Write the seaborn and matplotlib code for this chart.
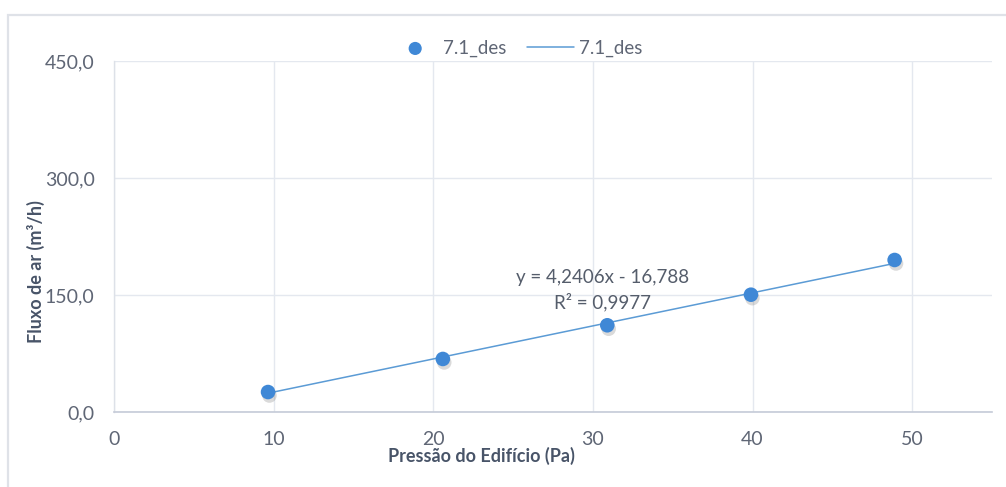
import numpy as np
import pandas as pd
import matplotlib
matplotlib.use("Agg")
import matplotlib.pyplot as plt
import matplotlib.patheffects as pe
from matplotlib.patches import Rectangle
import seaborn as sns

# Measured building pressure (Pa) and air flow (m³/h)
pressao = [9.65, 20.6, 30.9, 39.9, 48.9]
fluxo = [25.6, 68.0, 111.2, 150.4, 194.9]

# Linear trendline coefficients and fit quality
slope = [4.2406]
intercept = [-16.788]
r2 = [0.9977]

serie = "7.1_des"
y_ticks = [0, 150, 300, 450]
x_ticks = [0, 10, 20, 30, 40, 50]

sns.set_theme(style="white")
plt.rcParams["font.family"] = ["Lato", "DejaVu Sans"]

fig = plt.figure(figsize=(10.06, 4.87), dpi=100)
fig.patch.set_facecolor("white")
ax = fig.add_axes([0.1133, 0.154, 0.8728, 0.7207])

df = pd.DataFrame({"x": pressao, "y": fluxo})
xs = np.array([min(pressao), max(pressao)])
trend = pd.DataFrame({"x": xs, "y": slope[0] * xs + intercept[0]})

sns.lineplot(data=trend, x="x", y="y", ax=ax, color="#5b9bd5", lw=1.1,
             label=f"{serie} ", zorder=2)
sns.scatterplot(data=df, x="x", y="y", ax=ax, color="#3f88d6", s=110,
                edgecolor="none", label=serie, zorder=3)
coll = ax.collections[-1]
coll.set_path_effects([pe.SimplePatchShadow(offset=(1, -2.5), alpha=0.18,
                                            shadow_rgbFace="#333333"),
                       pe.Normal()])

ax.set_xlim(0, 55)
ax.set_ylim(0, 450)
ax.set_xticks(x_ticks)
ax.set_yticks(y_ticks)
ax.set_yticklabels([f"{v:.1f}".replace(".", ",") for v in y_ticks])
ax.set_xticklabels([str(v) for v in x_ticks])
ax.tick_params(axis="both", length=0, labelsize=14, labelcolor="#5f6675")
ax.tick_params(axis="x", pad=14)
ax.tick_params(axis="y", pad=14)

ax.grid(True, color="#e4e8ef", lw=1)
ax.set_axisbelow(True)
for side in ["top", "right"]:
    ax.spines[side].set_visible(False)
ax.spines["left"].set_color("#dde1e8")
ax.spines["left"].set_linewidth(1)
ax.spines["bottom"].set_color("#c5cbd8")
ax.spines["bottom"].set_linewidth(1.2)

ax.set_xlabel("Pressão do Edifício (Pa)", fontsize=13, fontweight="bold",
              color="#485468")
ax.set_ylabel("Fluxo de ar (m³/h)", fontsize=13, fontweight="bold",
              color="#485468")
ax.xaxis.set_label_coords(0.418, -0.10)
ax.yaxis.set_label_coords(-0.079, 0.40)

eq = (f"y = {slope[0]:.4f}x - {abs(intercept[0]):.3f}".replace(".", ",")
      + "\n" + f"R² = {r2[0]:.4f}".replace(".", ","))
ax.text(30.6, 156, eq, ha="center", va="center", fontsize=13.5,
        color="#555d6b", linespacing=1.4)

handles, labels = ax.get_legend_handles_labels()
order = [1, 0]
ax.get_legend().remove()
leg = fig.legend([handles[i] for i in order], [serie, serie], loc="center",
                 bbox_to_anchor=(517 / 1006, 1 - 48 / 487), ncol=2,
                 frameon=False, fontsize=13.5, labelcolor="#5f6675",
                 handlelength=2.5, columnspacing=1.1, handletextpad=0.25,
                 markerscale=0.9)
leg.legend_handles[0].set_path_effects([])

# Chart area border
fig.add_artist(Rectangle((8 / 1006, -0.05), 1.2, 1 - 15 / 487 + 0.05,
                         transform=fig.transFigure, fill=False,
                         edgecolor="#dfe2e8", lw=1.6))

fig.savefig("out.png", dpi=100, facecolor="white")
